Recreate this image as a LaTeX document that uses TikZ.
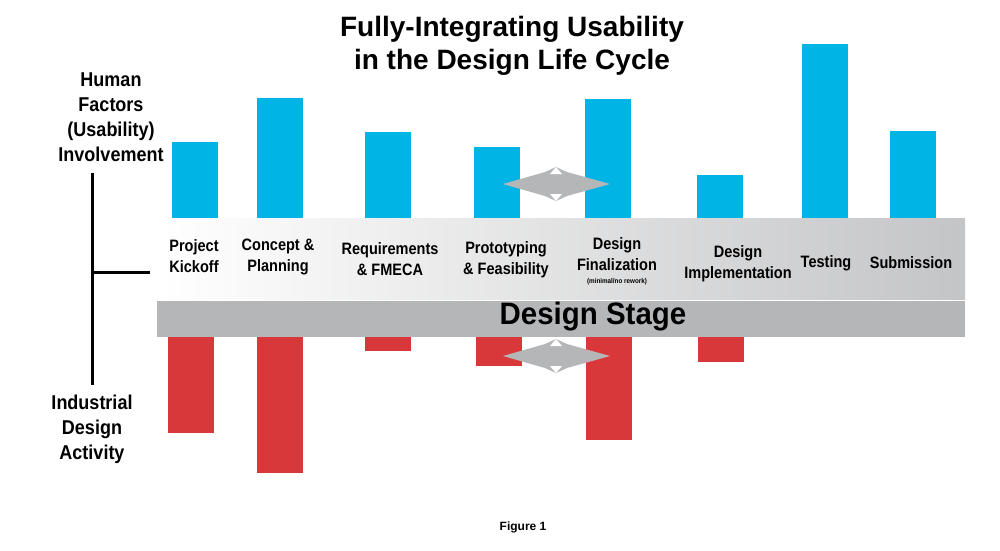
\documentclass[tikz,border=0pt]{standalone}
\usepackage{fontspec}
\setmainfont{Liberation Sans}
\begin{document}
\begin{tikzpicture}[x=1pt,y=-1pt,
  lbl/.style={font=\bfseries\fontsize{16.5}{21}\selectfont,align=center,inner sep=0,xscale=0.88,transform shape},
  side/.style={font=\bfseries\fontsize{20}{25}\selectfont,align=center,inner sep=0,xscale=0.9,transform shape}]
\definecolor{hfblue}{HTML}{00B4E6}
\definecolor{idred}{HTML}{D9383A}
\definecolor{band}{HTML}{B5B6B8}
\useasboundingbox (0,0) rectangle (1000,550);
\fill[white] (0,0) rectangle (1000,550);
% bars
\foreach \a/\t in {172/142,257/98,365/132,474/147,585/99,697/175,802/44,890/131}
  \fill[hfblue] (\a,\t) rectangle (\a+46,219);
\foreach \a/\b in {168/433,257/473,365/351,476/366,586/440,698/362}
  \fill[idred] (\a,336) rectangle (\a+46,\b);
% bands
\shade[left color=white,right color=band!80] (160,218) rectangle (965,300);
\fill[band] (157,300) rectangle (965,337);
\draw[white,line width=1pt] (157,300) -- (965,300);
% double arrows
\foreach \y in {184,356}{
  \fill[band] (503,\y) -- (545,\y-12) -- (556,\y-17) -- (567,\y-12) -- (610,\y) -- (567,\y+12) -- (556,\y+17) -- (545,\y+12) -- cycle;
  \fill[white] (550,\y-10) -- (556,\y-17) -- (562,\y-10) -- cycle;
  \fill[white] (550,\y+10) -- (556,\y+17) -- (562,\y+10) -- cycle;
}
% bracket
\coordinate (bt) at (92,173); \coordinate (bb) at (92,385);
\coordinate (bm) at (92,272); \coordinate (be) at (150,272);
\draw[line width=3pt] (bt) -- (bb);
\draw[line width=3pt] (bm) -- (be);
% title
\node[font=\bfseries\fontsize{28}{33}\selectfont,align=center] (title) at (512,46) {Fully-Integrating Usability\\in the Design Life Cycle};
\node[side] (hf) at (111,117) {Human\\Factors\\(Usability)\\Involvement};
\node[side] (id) at (92,429) {Industrial\\Design\\Activity};
% stage labels
\node[lbl] (s1) at (194,256) {Project\\Kickoff};
\node[lbl] (s2) at (278,257) {Concept \&\\Planning};
\node[lbl] (s3) at (390,259) {Requirements\\\& FMECA};
\node[lbl] (s4) at (506,260) {Prototyping\\\& Feasibility};
\node[lbl] (s5) at (617,254) {Design\\Finalization};
\node[font=\bfseries\fontsize{7}{8}\selectfont,inner sep=0,xscale=0.9,transform shape] (s5b) at (617,282) {(minimal/no rework)};
\node[lbl] (s6) at (738,264) {Design\\Implementation};
\node[lbl] (s7) at (826,263) {Testing};
\node[lbl] (s8) at (911,263) {Submission};
\node[font=\bfseries\fontsize{31}{34}\selectfont,inner sep=0,xscale=0.95,transform shape] (ds) at (593,317) {Design Stage};
\node[font=\bfseries\fontsize{12}{14}\selectfont] (fig) at (523,527) {Figure 1};
\end{tikzpicture}
\end{document}
